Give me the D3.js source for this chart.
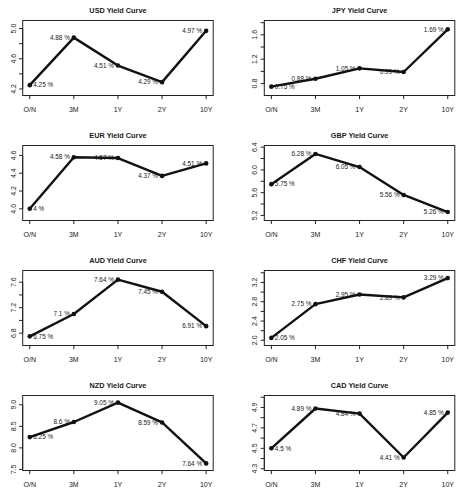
<!DOCTYPE html>
<html><head><meta charset="utf-8">
<script src="https://cdn.jsdelivr.net/npm/d3@7"></script>
<style>
html,body{margin:0;padding:0;background:#fff;}
svg{display:block;}
text{font-family:"Liberation Sans",Arial,sans-serif;fill:#1a1a1a;}
</style></head>
<body>
<script>
// ---- data ----
const maturities = ["O/N", "3M", "1Y", "2Y", "10Y"];
const currencies = ["USD", "JPY", "EUR", "GBP", "AUD", "CHF", "NZD", "CAD"];
const usd = [4.25, 4.88, 4.51, 4.29, 4.97];
const jpy = [0.75, 0.88, 1.05, 0.99, 1.69];
const eur = [4.00, 4.58, 4.57, 4.37, 4.51];
const gbp = [5.75, 6.28, 6.05, 5.56, 5.26];
const aud = [6.75, 7.10, 7.64, 7.45, 6.91];
const chf = [2.05, 2.75, 2.95, 2.89, 3.29];
const nzd = [8.25, 8.60, 9.05, 8.59, 7.64];
const cad = [4.50, 4.89, 4.84, 4.41, 4.85];
const pointLabels = {
  USD: ["4.25 %", "4.88 %", "4.51 %", "4.29 %", "4.97 %"],
  JPY: ["0.75 %", "0.88 %", "1.05 %", "0.99 %", "1.69 %"],
  EUR: ["4 %", "4.58 %", "4.57 %", "4.37 %", "4.51 %"],
  GBP: ["5.75 %", "6.28 %", "6.05 %", "5.56 %", "5.26 %"],
  AUD: ["6.75 %", "7.1 %", "7.64 %", "7.45 %", "6.91 %"],
  CHF: ["2.05 %", "2.75 %", "2.95 %", "2.89 %", "3.29 %"],
  NZD: ["8.25 %", "8.6 %", "9.05 %", "8.59 %", "7.64 %"],
  CAD: ["4.5 %", "4.89 %", "4.84 %", "4.41 %", "4.85 %"]
};
const yTickSteps = [0.2, 0.2, 0.2, 0.2, 0.2, 0.2, 0.5, 0.1];
const seriesList = [usd, jpy, eur, gbp, aud, chf, nzd, cad];

// ---- layout ----
const W = 464, H = 500;
const svg = d3.select("body").append("svg").attr("width", W).attr("height", H);
svg.append("rect").attr("width", W).attr("height", H).attr("fill", "#fff");

const colX0 = [22.7, 264.3], boxW = 190.5;
const rowH = 125, boxTop = 20.5, boxBot = 95.5;
const fmt = d3.format(".1f");

currencies.forEach((cur, i) => {
  const col = i % 2, row = Math.floor(i / 2);
  const vals = seriesList[i];
  const x0 = colX0[col], y0 = row * rowH;
  const g = svg.append("g").attr("transform", `translate(${x0},${y0})`);

  // R-like limits: range +-0.1, then 4% extension
  const lo = d3.min(vals) - 0.1, hi = d3.max(vals) + 0.1;
  const ext = (hi - lo) * 0.04;
  const y = d3.scaleLinear().domain([lo - ext, hi + ext]).range([boxBot, boxTop]);
  const x = d3.scaleLinear().domain([1 - 0.16, 5 + 0.16]).range([0, boxW]);

  // title
  g.append("text").attr("x", boxW / 2).attr("y", 12.5)
    .attr("text-anchor", "middle").attr("font-size", 7.3).attr("font-weight", "bold")
    .text(cur + " Yield Curve");

  // box
  g.append("rect").attr("x", 0).attr("y", boxTop).attr("width", boxW).attr("height", boxBot - boxTop)
    .attr("fill", "none").attr("stroke", "#222").attr("stroke-width", 1);

  // x axis
  const xa = g.append("g").attr("transform", `translate(0,${boxBot})`);
  xa.append("line").attr("x1", x(1)).attr("x2", x(5)).attr("stroke", "#222");
  maturities.forEach((m, k) => {
    xa.append("line").attr("x1", x(k + 1)).attr("x2", x(k + 1)).attr("y1", 0).attr("y2", 3.6).attr("stroke", "#222");
    xa.append("text").attr("x", x(k + 1)).attr("y", 16.5).attr("text-anchor", "middle")
      .attr("font-size", 7).text(m);
  });

  // y axis
  const step = yTickSteps[i];
  const [d0, d1] = y.domain();
  const ticks = [];
  for (let t = Math.ceil(d0 / step - 1e-9) * step; t <= d1 + 1e-9; t += step) ticks.push(+t.toFixed(4));
  const ya = g.append("g");
  ya.append("line").attr("y1", y(ticks[0])).attr("y2", y(ticks[ticks.length - 1])).attr("stroke", "#222");
  let lastY = null;
  ticks.forEach(t => {
    const ty = y(t);
    ya.append("line").attr("x1", 0).attr("x2", -3.6).attr("y1", ty).attr("y2", ty).attr("stroke", "#222");
    if (lastY === null || Math.abs(lastY - ty) >= 16) {
      lastY = ty;
      ya.append("text").attr("transform", `translate(-7,${ty}) rotate(-90)`)
        .attr("text-anchor", "middle").attr("font-size", 7).text(fmt(t));
    }
  });

  // line
  const line = d3.line().x((d, k) => x(k + 1)).y(d => y(d));
  g.append("path").datum(vals).attr("d", line).attr("fill", "none")
    .attr("stroke", "#111").attr("stroke-width", 2.4).attr("stroke-linejoin", "round");

  // points
  g.selectAll("circle.pt").data(vals).enter().append("circle")
    .attr("cx", (d, k) => x(k + 1)).attr("cy", d => y(d)).attr("r", 2.3).attr("fill", "#111");

  // point labels
  g.selectAll("text.pl").data(vals).enter().append("text")
    .attr("x", (d, k) => k === 0 ? x(k + 1) + 3.5 : x(k + 1) - 4)
    .attr("y", d => y(d) + 2.3)
    .attr("text-anchor", (d, k) => k === 0 ? "start" : "end")
    .attr("font-size", 6.4).attr("fill", "#333")
    .text((d, k) => pointLabels[cur][k]);
});
</script>
</body></html>
